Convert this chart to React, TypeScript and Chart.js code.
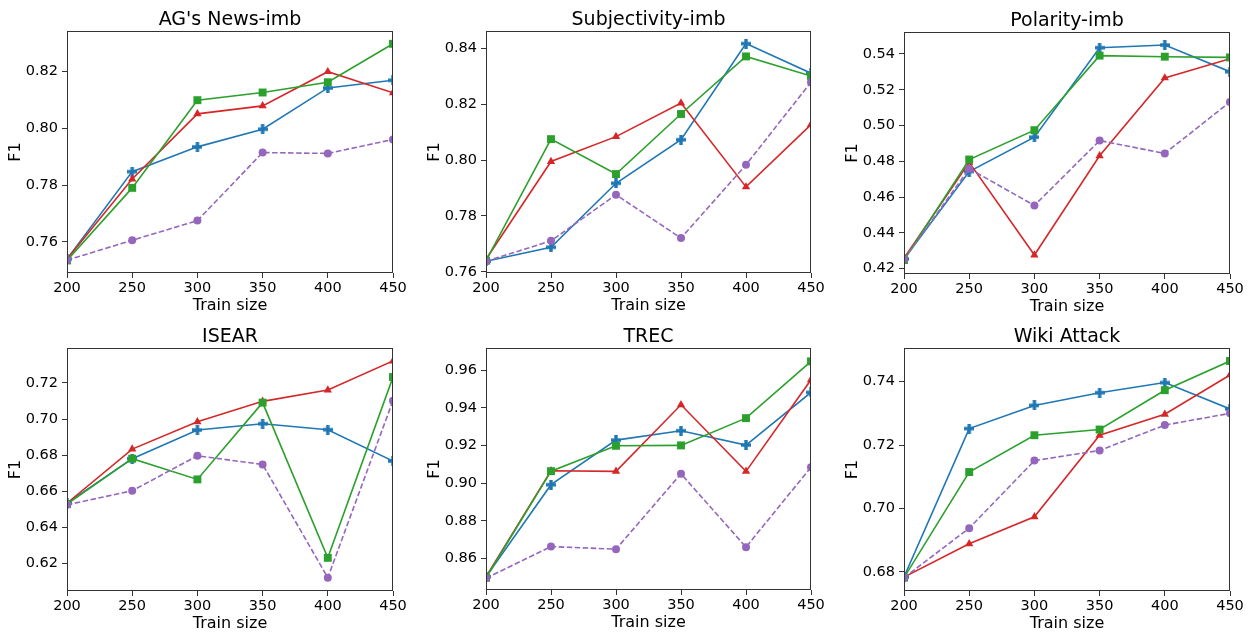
import React, { useEffect, useRef } from "react";
import { Chart, registerables } from "chart.js";
Chart.register(...registerables);

const trainSizes = [200, 250, 300, 350, 400, 450];
const xTicks = [200, 250, 300, 350, 400, 450];

// AG's News-imb
const agBlue = [0.754, 0.7847, 0.7934, 0.7996, 0.8141, 0.8168];
const agRed = [0.754, 0.7821, 0.805, 0.8078, 0.8198, 0.8124];
const agGreen = [0.7535, 0.779, 0.8098, 0.8125, 0.8161, 0.8296];
const agPurple = [0.7536, 0.7606, 0.7675, 0.7914, 0.7911, 0.796];

// Subjectivity-imb
const subjBlue = [0.7638, 0.7688, 0.7917, 0.8073, 0.8417, 0.8311];
const subjRed = [0.7645, 0.7995, 0.8084, 0.8204, 0.7904, 0.8127];
const subjGreen = [0.764, 0.8075, 0.795, 0.8165, 0.8371, 0.8301];
const subjPurple = [0.7638, 0.7711, 0.7876, 0.7721, 0.7983, 0.8279];

// Polarity-imb
const polBlue = [0.4254, 0.4743, 0.4935, 0.5435, 0.545, 0.5301];
const polRed = [0.4258, 0.4794, 0.4276, 0.4831, 0.5266, 0.5374];
const polGreen = [0.4248, 0.481, 0.4974, 0.5391, 0.5385, 0.5381];
const polPurple = [0.4252, 0.4759, 0.4553, 0.4916, 0.4844, 0.5132];

// ISEAR
const isearBlue = [0.6533, 0.678, 0.6939, 0.6974, 0.6941, 0.6767];
const isearRed = [0.6533, 0.6833, 0.6985, 0.7098, 0.7161, 0.7322];
const isearGreen = [0.6528, 0.678, 0.6665, 0.7091, 0.623, 0.7233];
const isearPurple = [0.6524, 0.6602, 0.6796, 0.6748, 0.612, 0.7102];

// TREC
const trecBlue = [0.8502, 0.8992, 0.9229, 0.9279, 0.9203, 0.9483];
const trecRed = [0.8502, 0.9066, 0.9063, 0.9417, 0.9063, 0.955];
const trecGreen = [0.8497, 0.9064, 0.9199, 0.9201, 0.9346, 0.9648];
const trecPurple = [0.8495, 0.8663, 0.8649, 0.905, 0.866, 0.9085];

// Wiki Attack
const wikiBlue = [0.6784, 0.7252, 0.7325, 0.7365, 0.7397, 0.7314];
const wikiRed = [0.6784, 0.6889, 0.6974, 0.7231, 0.7297, 0.7421];
const wikiGreen = [0.6782, 0.7115, 0.7231, 0.7249, 0.7373, 0.7465];
const wikiPurple = [0.6782, 0.6938, 0.7151, 0.7183, 0.7263, 0.73];

const titles = ["AG's News-imb", "Subjectivity-imb", "Polarity-imb", "ISEAR", "TREC", "Wiki Attack"];
// y-axis limits
const yMins = [0.7491, 0.7596, 0.417, 0.6046, 0.8432, 0.674];
const yMaxs = [0.8341, 0.8462, 0.5523, 0.7394, 0.9719, 0.7506];

const FONT = "'DejaVu Sans', sans-serif";
const BLUE = "#1f77b4";
const RED = "#d62728";
const GREEN = "#2ca02c";
const PURPLE = "#9467bd";

const AXW = 65;
const PADT = 31;
const PADR = 20;
const AXH = 46;

function makePlus(color: string): HTMLCanvasElement {
  const c = document.createElement("canvas");
  c.width = 10;
  c.height = 10;
  const g = c.getContext("2d")!;
  g.fillStyle = color;
  g.fillRect(3.3, 0, 3.4, 10);
  g.fillRect(0, 3.3, 10, 3.4);
  return c;
}

const frameAndTitle = {
  id: "frameAndTitle",
  afterDraw(chart: any) {
    const { ctx, chartArea } = chart;
    const { left, top, right, bottom } = chartArea;
    ctx.save();
    ctx.strokeStyle = "#333";
    ctx.lineWidth = 1;
    ctx.strokeRect(left + 0.5, top + 0.5, right - left - 1, bottom - top - 1);
    ctx.fillStyle = "#000";
    ctx.font = `19px ${FONT}`;
    ctx.textAlign = "center";
    ctx.textBaseline = "middle";
    ctx.fillText(chart.options.plugins.panelTitle.text, (left + right) / 2, top - 11);
    ctx.restore();
  },
};

type Rect = { L: number; T: number; R: number; B: number };

function Panel(props: { title: string; series: number[][]; rect: Rect; yMin: number; yMax: number }) {
  const ref = useRef<HTMLCanvasElement>(null);
  const { rect, series, title, yMin, yMax } = props;
  const w = rect.R - rect.L + AXW + PADR;
  const h = rect.B - rect.T + PADT + AXH;
  useEffect(() => {
    const plus = makePlus(BLUE);
    const [b, r, g, p] = series;
    const mk = (vals: number[]) => vals.map((v, i) => ({ x: trainSizes[i], y: v }));
    const chart = new Chart(ref.current!, {
      type: "line",
      data: {
        datasets: [
          { label: "blue", data: mk(b), borderColor: BLUE, backgroundColor: BLUE, borderWidth: 1.6, pointStyle: plus as any, pointRadius: 5, order: 4, clip: 0 as any },
          { label: "red", data: mk(r), borderColor: RED, backgroundColor: RED, borderWidth: 1.6, pointStyle: "triangle", pointRadius: 4.8, pointBorderWidth: 0, order: 3, clip: 0 as any },
          { label: "green", data: mk(g), borderColor: GREEN, backgroundColor: GREEN, borderWidth: 1.6, pointStyle: "rect", pointRadius: 5.6, pointBorderWidth: 0, order: 2, clip: 0 as any },
          { label: "purple", data: mk(p), borderColor: PURPLE, backgroundColor: PURPLE, borderWidth: 1.6, borderDash: [5.5, 2.5], pointStyle: "circle", pointRadius: 4, pointBorderWidth: 0, order: 1, clip: 0 as any },
        ],
      },
      options: {
        responsive: false,
        animation: false,
        layout: { padding: { top: PADT, right: PADR, left: 0, bottom: 0 } },
        plugins: {
          legend: { display: false },
          tooltip: { enabled: false },
          panelTitle: { text: title },
        } as any,
        scales: {
          x: {
            type: "linear",
            min: xTicks[0],
            max: xTicks[xTicks.length - 1],
            afterFit: (s: any) => { s.height = AXH; },
            afterBuildTicks: (s: any) => { s.ticks = xTicks.map((v) => ({ value: v })); },
            grid: { drawOnChartArea: false, drawTicks: true, tickLength: 5, color: "#333", tickWidth: 1 },
            border: { display: false },
            ticks: { color: "#000", font: { family: FONT, size: 14.5 }, padding: 2, maxRotation: 0, callback: (v: any) => String(v) },
            title: { display: true, text: "Train size", color: "#000", font: { family: FONT, size: 16 }, padding: { top: 2, bottom: 4 } },
          },
          y: {
            type: "linear",
            min: yMin,
            max: yMax,
            afterFit: (s: any) => { s.width = AXW; },
            grid: { drawOnChartArea: false, drawTicks: true, tickLength: 5, color: "#333", tickWidth: 1 },
            border: { display: false },
            ticks: { color: "#000", stepSize: 0.02, includeBounds: false, font: { family: FONT, size: 14.5 }, padding: 4, callback: (v: any) => Number(v).toFixed(2) },
            title: { display: true, text: "F1", color: "#000", font: { family: FONT, size: 16 }, padding: { top: 4, bottom: 2 } },
          },
        },
      },
      plugins: [frameAndTitle],
    });
    return () => chart.destroy();
  }, []);
  return (
    <div style={{ position: "absolute", left: rect.L - AXW, top: rect.T - PADT, width: w, height: h }}>
      <canvas ref={ref} width={w} height={h} style={{ display: "block", width: w, height: h }} />
    </div>
  );
}

const rects: Rect[] = [
  { L: 67, T: 31, R: 393, B: 273 },
  { L: 486, T: 31, R: 811, B: 273 },
  { L: 904, T: 32, R: 1230, B: 274 },
  { L: 67, T: 348, R: 393, B: 591 },
  { L: 486, T: 348, R: 811, B: 590 },
  { L: 904, T: 348, R: 1230, B: 591 },
];

const panelSeries = [
  [agBlue, agRed, agGreen, agPurple],
  [subjBlue, subjRed, subjGreen, subjPurple],
  [polBlue, polRed, polGreen, polPurple],
  [isearBlue, isearRed, isearGreen, isearPurple],
  [trecBlue, trecRed, trecGreen, trecPurple],
  [wikiBlue, wikiRed, wikiGreen, wikiPurple],
];

export default function App() {
  return (
    <div style={{ position: "absolute", left: 0, top: 0, width: 1255, height: 635, background: "#fff" }}>
      {titles.map((t, i) => (
        <Panel key={t} title={t} series={panelSeries[i]} rect={rects[i]} yMin={yMins[i]} yMax={yMaxs[i]} />
      ))}
    </div>
  );
}
